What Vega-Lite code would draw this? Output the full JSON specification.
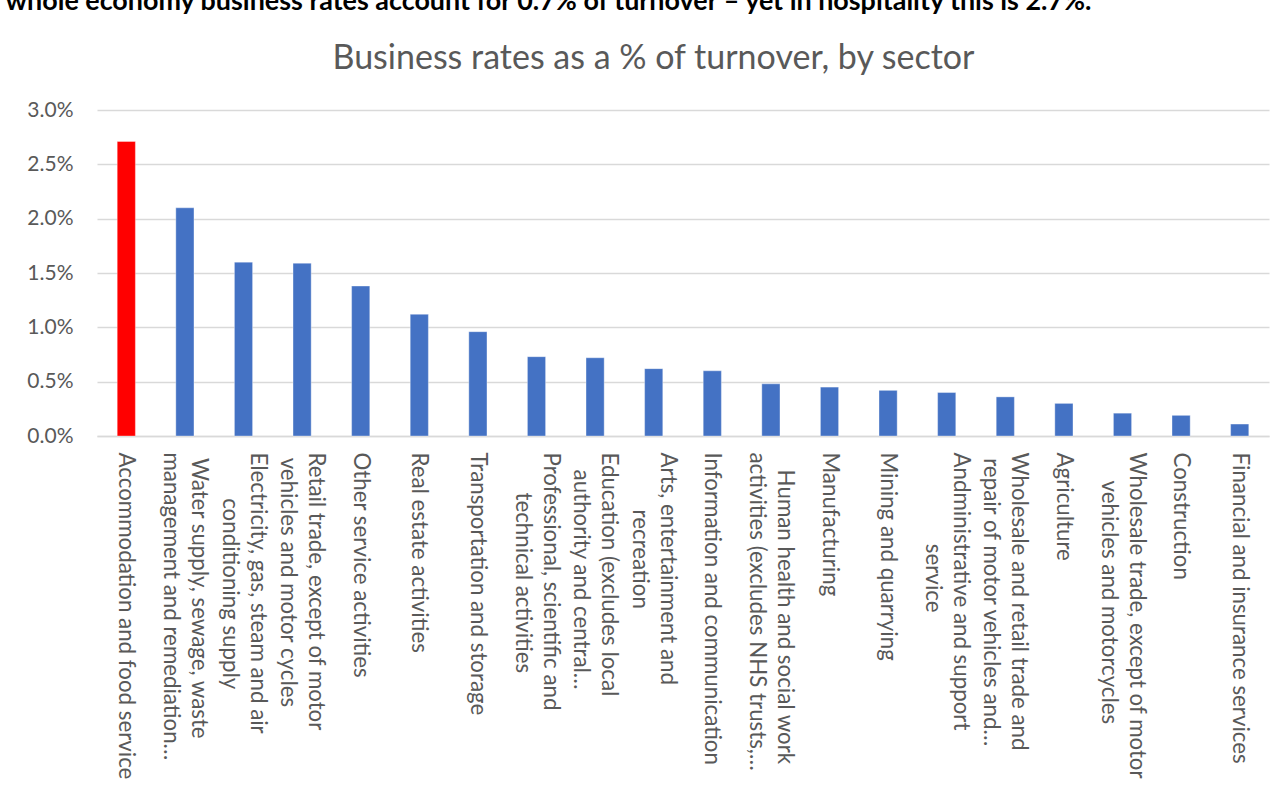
{
  "$schema": "https://vega.github.io/schema/vega-lite/v6.json",
  "width": 1172,
  "height": 326,
  "autosize": {"type": "none"},
  "padding": {"left": 97, "top": 110, "right": 17, "bottom": 353},
  "background": "white",
  "data": {
    "values": [
      {"sector": "Accommodation and food service", "rate": 0.0271},
      {"sector": "Water supply, sewage, waste|management and remediation…", "rate": 0.0210},
      {"sector": "Electricity, gas, steam and air|conditioning supply", "rate": 0.0160},
      {"sector": "Retail trade, except of motor|vehicles and motor cycles", "rate": 0.0159},
      {"sector": "Other service activities", "rate": 0.0138},
      {"sector": "Real estate activities", "rate": 0.0112},
      {"sector": "Transportation and storage", "rate": 0.0096},
      {"sector": "Professional, scientific and|technical activities", "rate": 0.0073},
      {"sector": "Education (excludes local|authority and central…", "rate": 0.0072},
      {"sector": "Arts, entertainment and|recreation", "rate": 0.0062},
      {"sector": "Information and communication", "rate": 0.0060},
      {"sector": "Human health and social work|activities (excludes NHS trusts,…", "rate": 0.0048},
      {"sector": "Manufacturing", "rate": 0.0045},
      {"sector": "Mining and quarrying", "rate": 0.0042},
      {"sector": "Andministrative and support|service", "rate": 0.0040},
      {"sector": "Wholesale and retail trade and|repair of motor vehicles and…", "rate": 0.0036},
      {"sector": "Agriculture", "rate": 0.0030},
      {"sector": "Wholesale trade, except of motor|vehicles and motorcycles", "rate": 0.0021},
      {"sector": "Construction", "rate": 0.0019},
      {"sector": "Financial and insurance services", "rate": 0.0011}
    ]
  },
  "mark": {"type": "bar", "stroke": "#ffffff", "strokeOpacity": 0.35, "strokeWidth": 1},
  "encoding": {
    "x": {
      "field": "sector",
      "type": "nominal",
      "sort": null,
      "scale": {"paddingInner": 0.69, "paddingOuter": 0.345},
      "axis": {
        "labelExpr": "indexof(datum.value, '|') < 0 ? datum.value : ['\u200b' + pad(split(datum.value,'|')[0], length(split(datum.value,'|')[0]) + round(max(0, (0.9*length(split(datum.value,'|')[1]) + 0.5*length(replace(split(datum.value,'|')[1], regexp('[iltfjr ,.()]','g'), '')) - 0.4*length(replace(split(datum.value,'|')[1], regexp('[mwMWHN…]','g'), ''))) - (0.9*length(split(datum.value,'|')[0]) + 0.5*length(replace(split(datum.value,'|')[0], regexp('[iltfjr ,.()]','g'), '')) - 0.4*length(replace(split(datum.value,'|')[0], regexp('[mwMWHN…]','g'), ''))))), '\u00a0', 'left'), '\u200b' + pad(split(datum.value,'|')[1], length(split(datum.value,'|')[1]) + round(max(0, (0.9*length(split(datum.value,'|')[0]) + 0.5*length(replace(split(datum.value,'|')[0], regexp('[iltfjr ,.()]','g'), '')) - 0.4*length(replace(split(datum.value,'|')[0], regexp('[mwMWHN…]','g'), ''))) - (0.9*length(split(datum.value,'|')[1]) + 0.5*length(replace(split(datum.value,'|')[1], regexp('[iltfjr ,.()]','g'), '')) - 0.4*length(replace(split(datum.value,'|')[1], regexp('[mwMWHN…]','g'), ''))))), '\u00a0', 'left')]",
        "labelAngle": 90,
        "labelAlign": "left",
        "labelBaseline": "middle",
        "labelOffset": {"condition": {"test": "indexof(datum.value, '|') >= 0", "value": 14}, "value": 0},
        "labelPadding": 16,
        "labelFont": "Lato",
        "labelFontSize": 22.3,
        "labelLineHeight": 28,
        "labelColor": "#595959",
        "labelLimit": 0,
        "labelOverlap": false,
        "ticks": false,
        "domainColor": "#d9d9d9",
        "domainWidth": 1.5,
        "title": "whole economy business rates account for 0.7% of turnover – yet in hospitality this is 2.7%.",
        "titleAngle": 0,
        "titleX": -92,
        "titleY": -427,
        "titleAlign": "left",
        "titleBaseline": "alphabetic",
        "titleFont": "Lato",
        "titleFontSize": 26.9,
        "titleFontWeight": "bold",
        "titleColor": "#000000"
      }
    },
    "y": {
      "field": "rate",
      "type": "quantitative",
      "scale": {"domain": [0, 0.03], "nice": false},
      "axis": {
        "values": [0, 0.005, 0.01, 0.015, 0.02, 0.025, 0.03],
        "format": ".1%",
        "labelFont": "Lato",
        "labelFontSize": 21,
        "labelColor": "#595959",
        "labelPadding": 24,
        "ticks": false,
        "domain": false,
        "gridColor": "#d9d9d9",
        "gridWidth": 1.5,
        "title": "Business rates as a % of turnover, by sector",
        "titleAngle": 0,
        "titleX": 556,
        "titleY": -42,
        "titleAlign": "center",
        "titleBaseline": "alphabetic",
        "titleFont": "Lato",
        "titleFontSize": 34,
        "titleFontWeight": "normal",
        "titleColor": "#595959"
      }
    },
    "color": {
      "condition": {"test": "datum.sector === 'Accommodation and food service'", "value": "#ff0000"},
      "value": "#4472c4"
    }
  },
  "config": {"view": {"stroke": null}}
}
